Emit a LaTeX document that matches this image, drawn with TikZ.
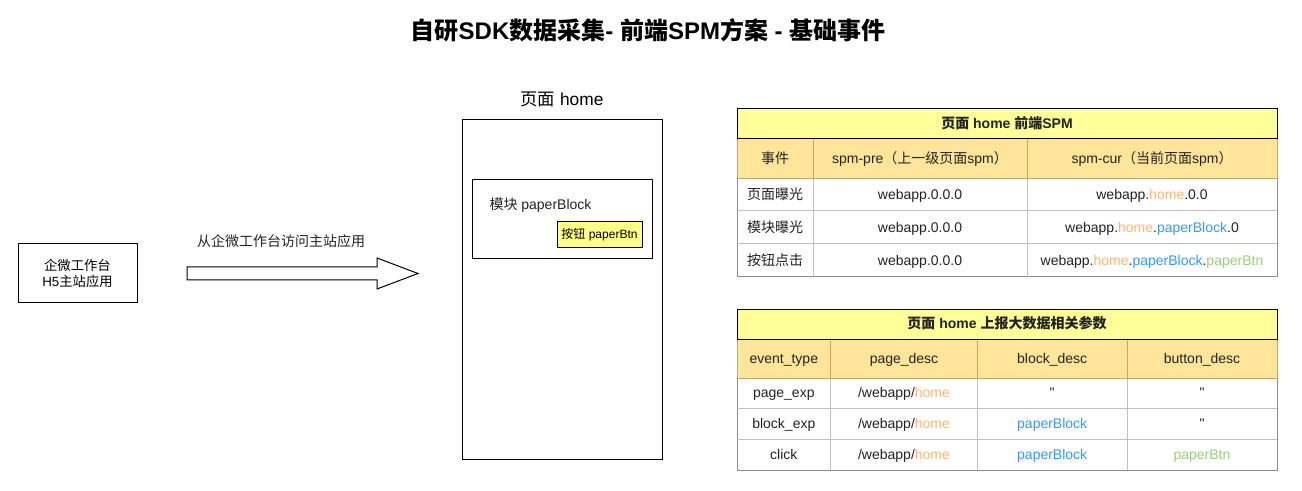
\documentclass[tikz,border=0pt]{standalone}
\usepackage{fontspec}
\setmainfont{Liberation Sans}
\newfontfamily\cjk{Noto Sans CJK SC}
\usetikzlibrary{positioning}

\definecolor{hdrYellow}{HTML}{FFFF99}
\definecolor{hdrOrange}{HTML}{FFE599}
\definecolor{hdrLine}{HTML}{C4A86A}
\definecolor{gridGray}{HTML}{C0C0C0}
\definecolor{rimGray}{HTML}{8C8C8C}
\definecolor{btnYellow}{HTML}{FFFF88}
\definecolor{txtDark}{HTML}{222222}
\definecolor{homeOrange}{HTML}{FFB570}
\definecolor{blockBlue}{HTML}{3399FF}
\definecolor{btnGreen}{HTML}{97D077}

\newcommand{\zh}[1]{{\cjk #1}}
\newcommand{\pagec}[1]{\textcolor{homeOrange}{#1}}
\newcommand{\blockc}[1]{\textcolor{blockBlue}{#1}}
\newcommand{\buttonc}[1]{\textcolor{btnGreen}{#1}}

\begin{document}
\begin{tikzpicture}[x=0.75pt, y=-0.75pt, line width=0.75pt,
  box/.style={draw, inner sep=0pt},
  lbl/.style={inner sep=0pt, text height=9.5pt, text depth=3pt, text=txtDark,
    font=\fontsize{10.5}{12}\selectfont, align=center},
  hd/.style={lbl, font=\fontsize{10.5}{12}\selectfont\bfseries}]
\useasboundingbox (0,0) rectangle (1302,491);

% title
\node[font=\fontsize{18}{20}\selectfont\bfseries] (title) at (648,30)
  {\zh{自研}SDK\zh{数据采集}- \zh{前端}SPM\zh{方案} - \zh{基础事件}};

% left app
\node[box, minimum width=89.25pt, minimum height=44.25pt, align=center,
  font=\fontsize{10}{12}\selectfont] (app) at (77.5,273.5)
  {\zh{企微工作台}\\H5\zh{主站应用}};

% big arrow
\coordinate (arrTail) at (187,273.5);
\coordinate (arrTip) at (418,273.5);
\draw (arrTail) ++(0,-6.5) -- ++(190,0) -- ++(0,-9) -- (arrTip)
  -- ++(-41,15.5) -- ++(0,-9) -- ++(-190,0) -- cycle;
\node[lbl] (arrLbl) at (281,242) {\zh{从企微工作台访问主站应用}};

% page home
\node[box, minimum width=150pt, minimum height=254.25pt] (page) at (562,289.5) {};
\node[font=\fontsize{13}{15}\selectfont] (pageLbl) at (562,99) {\zh{页面} home};
\node[box, minimum width=135pt, minimum height=59.25pt] (block) at (562,219.5) {};
\node[lbl, anchor=west] (blockLbl) at (489,205) {\zh{模块} paperBlock};
\node[box, fill=btnYellow, minimum width=63.75pt, minimum height=19.5pt,
  font=\fontsize{9}{11}\selectfont] (btn) at (599.5,235) {\zh{按钮} paperBtn};

% table 1: front-end SPM
\draw[rimGray] (737,179) rectangle (1277,277);
\foreach \y in {211,244} \draw[gridGray] (737.4,\y) -- (1276.6,\y);
\foreach \x in {813,1027} \draw[gridGray] (\x,179) -- (\x,276.6);
\draw[hdrLine, fill=hdrOrange] (737,139) rectangle (1277,179);
\foreach \x in {813,1027} \draw[hdrLine] (\x,139) -- (\x,179);
\draw[fill=hdrYellow] (737,109) rectangle (1277,139);
\node[hd] (spmTitle) at (1007,124) {\zh{页面} home \zh{前端}SPM};
\node[lbl] (spmH1) at (775,159) {\zh{事件}};
\node[lbl] (spmH2) at (920,159) {spm-pre\zh{（上一级页面}spm\zh{）}};
\node[lbl] (spmH3) at (1152,159) {spm-cur\zh{（当前页面}spm\zh{）}};
\foreach \y/\ev/\cur [count=\i] in {
    195.5/{\zh{页面曝光}}/{webapp.\pagec{home}.0.0},
    228/{\zh{模块曝光}}/{webapp.\pagec{home}.\blockc{paperBlock}.0},
    261/{\zh{按钮点击}}/{webapp.\pagec{home}.\blockc{paperBlock}.\buttonc{paperBtn}}} {
  \node[lbl] (spmE\i) at (775,\y) {\ev};
  \node[lbl] (spmP\i) at (920,\y) {webapp.0.0.0};
  \node[lbl] (spmC\i) at (1152,\y) {\cur};
}

% table 2: report params
\draw[rimGray] (737,378.7) rectangle (1277,470);
\foreach \y in {408.3,439.3} \draw[gridGray] (737.4,\y) -- (1276.6,\y);
\foreach \x in {830.6,977.4,1127} \draw[gridGray] (\x,378.7) -- (\x,469.6);
\draw[hdrLine, fill=hdrOrange] (737,339.3) rectangle (1277,378.7);
\foreach \x in {830.6,977.4,1127} \draw[hdrLine] (\x,339.3) -- (\x,378.7);
\draw[fill=hdrYellow] (737,309.3) rectangle (1277,339.3);
\node[hd] (repTitle) at (1007,324.3) {\zh{页面} home \zh{上报大数据相关参数}};
\node[lbl] (repH1) at (783.8,359) {event\_type};
\node[lbl] (repH2) at (904,359) {page\_desc};
\node[lbl] (repH3) at (1052.2,359) {block\_desc};
\node[lbl] (repH4) at (1202,359) {button\_desc};
\foreach \y/\ev/\blk/\but [count=\i] in {
    393.5/page\_exp/\textquotedbl/\textquotedbl,
    424/block\_exp/\blockc{paperBlock}/\textquotedbl,
    455/click/\blockc{paperBlock}/\buttonc{paperBtn}} {
  \node[lbl] (repE\i) at (783.8,\y) {\ev};
  \node[lbl] (repP\i) at (904,\y) {/webapp/\pagec{home}};
  \node[lbl] (repB\i) at (1052.2,\y) {\blk};
  \node[lbl] (repU\i) at (1202,\y) {\but};
}
\end{tikzpicture}
\end{document}
